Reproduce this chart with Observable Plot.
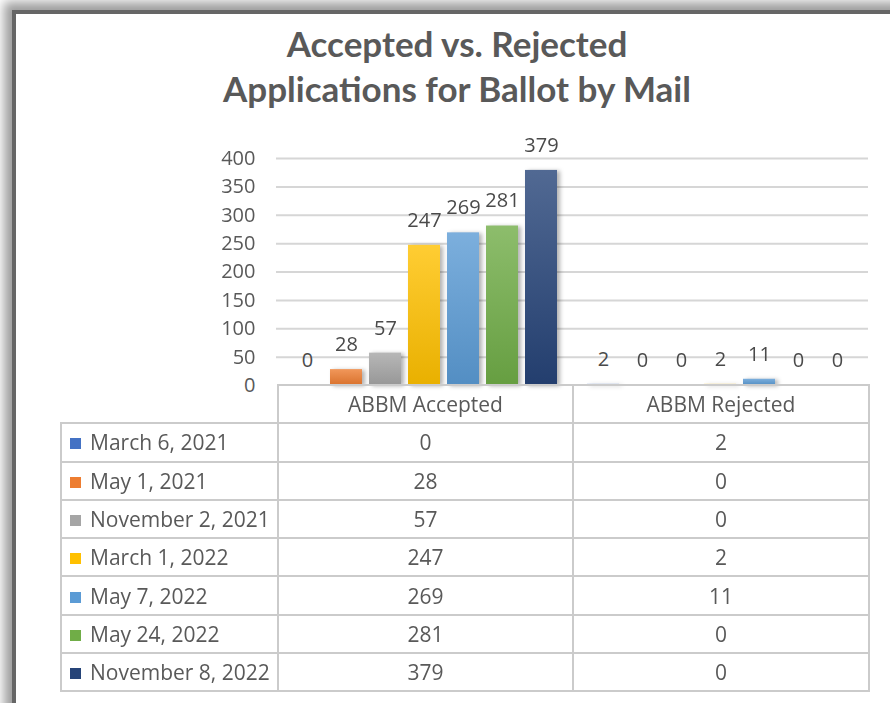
<!DOCTYPE html>
<html><head><meta charset="utf-8">
<script src="https://cdn.jsdelivr.net/npm/d3@7"></script>
<script src="https://cdn.jsdelivr.net/npm/@observablehq/plot@0.6"></script>
<style>
html,body{margin:0;padding:0;background:#fff;overflow:hidden;}
#page{position:relative;width:890px;height:703px;overflow:hidden;background:#fff;}
#frame{position:absolute;left:12px;top:10px;width:1000px;height:800px;border-top:4px solid #666;border-left:4px solid #666;box-shadow:-4px -4px 10px 4px rgba(0,0,0,0.38);background:#fff;}
#title{position:absolute;left:0;width:914px;top:21px;text-align:center;font-family:Lato,'Open Sans',sans-serif;font-weight:bold;font-size:35px;color:#595959;line-height:45px;}
#chart{position:absolute;left:0;top:120px;}
#tbl{position:absolute;left:60px;top:384px;border-collapse:collapse;table-layout:fixed;font-family:'Open Sans',sans-serif;font-size:21px;color:#595959;}
#tbl td{border:2px solid #cbcbcb;height:36.3px;padding:0;text-align:center;white-space:nowrap;overflow:hidden;line-height:20px;}
#tbl td.lab{text-align:left;padding-left:8px;}
#tbl td.blank{border:none;}
.sw{display:inline-block;width:11px;height:11px;margin-right:9px;vertical-align:1px;}
</style></head>
<body><div id="page"><div id="frame"></div>
<div id="title">Accepted vs. Rejected<br>Applications for Ballot by Mail</div>
<div id="chart"></div>
<table id="tbl"></table>
</div>
<script>
const categories = ["ABBM Accepted", "ABBM Rejected"];
const dates = ["March 6, 2021","May 1, 2021","November 2, 2021","March 1, 2022","May 7, 2022","May 24, 2022","November 8, 2022"];
const accepted = [0, 28, 57, 247, 269, 281, 379];
const rejected = [2, 0, 0, 2, 11, 0, 0];
const colors = ["#4472C4","#ED7D31","#A5A5A5","#FFC000","#5B9BD5","#70AD47","#264478"];
const yTicks = [0, 50, 100, 150, 200, 250, 300, 350, 400];

const series = [accepted, rejected];
const data = categories.flatMap((c, ci) => dates.map((d, di) => ({cat: c, date: d, value: series[ci][di]})));
const gradIds = dates.map((d, i) => `url(#grad${i})`);

const chart = Plot.plot({
  width: 890, height: 270,
  marginTop: 38, marginBottom: 5, marginLeft: 276, marginRight: 22,
  style: {fontFamily: "'Open Sans', sans-serif", fontSize: "20px", color: "#595959", background: "transparent", overflow: "visible"},
  fx: {domain: categories, padding: 0, axis: null},
  x: {domain: dates, paddingInner: 0.18, paddingOuter: 0.38, axis: null},
  y: {domain: [0, 400], axis: null},
  color: {type: "ordinal", domain: dates, range: gradIds},
  marks: [
    Plot.gridY(yTicks.filter(t => t > 0), {stroke: "#d6d6d6", strokeOpacity: 1, strokeWidth: 2}),
    Plot.barY(data, {fx: "cat", x: "date", y: "value", fill: "date"}),
    Plot.text(data, {fx: "cat", x: "date", y: "value", text: d => String(d.value), dy: -25, fill: "#4a4a4a", fontSize: 20}),
    Plot.axisY({ticks: yTicks, tickSize: 0, tickPadding: 21, fontSize: 20, fill: "#595959", label: null})
  ]
});
document.getElementById("chart").appendChild(chart);

const svg = d3.select(chart);
const defs = svg.insert("defs", ":first-child");
colors.forEach((c, i) => {
  const g = defs.append("linearGradient").attr("id", `grad${i}`).attr("x1", 0).attr("y1", 0).attr("x2", 0).attr("y2", 1);
  g.append("stop").attr("offset", "0%").attr("stop-color", d3.interpolateRgb(c, "#ffffff")(0.2));
  g.append("stop").attr("offset", "100%").attr("stop-color", d3.color(c).darker(0.25).formatHex());
});
svg.selectAll('g[aria-label="bar"]').style("filter", "drop-shadow(3px 1px 2px rgba(0,0,0,0.3))");

// data table
const tbl = d3.select("#tbl");
const cg = tbl.append("colgroup");
cg.append("col").style("width", "217px");
cg.append("col").style("width", "295px");
cg.append("col").style("width", "296px");
const hr = tbl.append("tr");
hr.append("td").attr("class", "blank");
categories.forEach(c => hr.append("td").text(c));
dates.forEach((d, i) => {
  const tr = tbl.append("tr");
  const lab = tr.append("td").attr("class", "lab");
  lab.append("span").attr("class", "sw").style("background", colors[i]);
  lab.append("span").text(d);
  series.forEach(s => tr.append("td").text(String(s[i])));
});
</script>
</body></html>
